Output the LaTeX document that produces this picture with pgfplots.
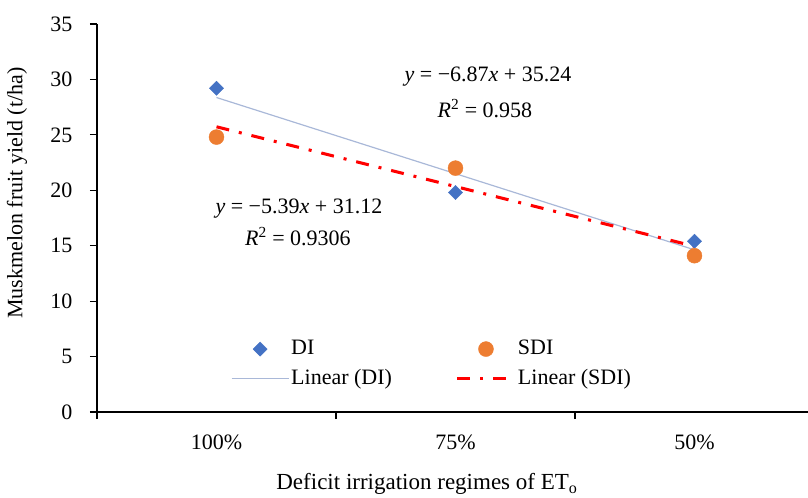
\documentclass[border=0pt]{standalone}
\usepackage{pgfplots}
\pgfplotsset{compat=1.18}
\usepackage{fontspec}
\setmainfont{Liberation Serif}
\definecolor{diblue}{HTML}{4472C4}
\definecolor{sdiorange}{HTML}{ED7D31}
\definecolor{trendblue}{HTML}{A9B8D8}
\pgfplotstableread{
x y
1 29.2
2 19.8
3 15.4
}\didata
\pgfplotstableread{
x y
1 24.8
2 22.0
3 14.1
}\sdidata
\begin{document}
\fontsize{22bp}{26bp}\selectfont
\begin{tikzpicture}
\useasboundingbox (0,0) rectangle (808bp,-498bp);
\begin{axis}[
  at={(97bp,-412bp)}, anchor=south west,
  scale only axis, width=711bp, height=388bp,
  xmin=0.5, xmax=3.475, ymin=0, ymax=35,
  axis x line*=bottom, axis y line*=left,
  axis line style={line width=1.2bp},
  ytick={0,5,...,35},
  xtick={0.5,1.5,2.5}, xticklabels={},
  extra x ticks={1,2,3},
  extra x tick labels={100\%,75\%,50\%},
  extra x tick style={major tick length=0pt, tick label style={anchor=base, yshift=-37bp}},
  tick align=outside, major tick length=7bp,
  tick style={line width=1.2bp, black},
  /pgf/number format/assume math mode=true,
  yticklabel style={xshift=-10bp},
  xlabel={\fontsize{23bp}{27bp}\selectfont Deficit irrigation regimes of ET\textsubscript{o}},
  ylabel={Muskmelon fruit yield (t/ha)},
  xlabel style={at={(axis description cs:0.464,-0.2)}, anchor=base},
  ylabel style={at={(axis description cs:-0.1125,0.564)}, anchor=center, rotate=0},
  legend columns=2,
  legend cell align=left,
  legend style={draw=none, fill=none, at={(0.184,0.196)}, anchor=north west,
    /tikz/every even column/.append style={column sep=62bp}, row sep=7bp},
  legend image code/.code={\draw[mark repeat=2,mark phase=2,#1] plot coordinates {(0bp,0bp)(28.5bp,0bp)(57bp,0bp)};},
  clip=false,
]
\addplot[only marks, mark=square*, mark size=5bp, mark options={rotate=45, fill=diblue, draw=diblue}] table {\didata};
\addlegendentry{DI}
\addplot[only marks, mark=*, mark size=7.5bp, mark options={fill=sdiorange, draw=sdiorange}] table {\sdidata};
\addlegendentry{SDI}
% linear trendlines: y = -6.87x + 35.24 and y = -5.39x + 31.12
\addplot[trendblue, line width=1.2bp] coordinates {(1,28.37) (3,14.63)};
\addlegendentry{Linear (DI)}
\addplot[red, line width=3bp, dash pattern=on 13bp off 10bp on 3bp off 10bp] coordinates {(1,25.73) (3,14.95)};
\addlegendentry{Linear (SDI)}
\node[anchor=base] at (axis cs:2.136,29.77) {\textit{y} = −6.87\textit{x} + 35.24};
\node[anchor=base] at (axis cs:2.123,26.61) {\textit{R}\textsuperscript{2} = 0.958};
\node[anchor=base] at (axis cs:1.345,17.95) {\textit{y} = −5.39\textit{x} + 31.12};
\node[anchor=base] at (axis cs:1.341,15.06) {\textit{R}\textsuperscript{2} = 0.9306};
\end{axis}
\end{tikzpicture}
\end{document}
